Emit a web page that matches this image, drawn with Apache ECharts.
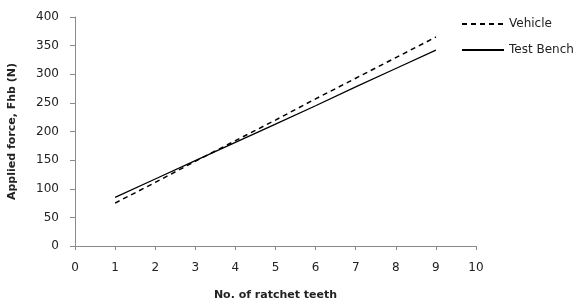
<!DOCTYPE html>
<html>
<head>
<meta charset="utf-8">
<script src="https://cdn.jsdelivr.net/npm/echarts@6/dist/echarts.min.js"></script>
<style>
  html, body { margin: 0; padding: 0; background: #fff; }
  #main { width: 582px; height: 303px; }
</style>
</head>
<body>
<div id="main"></div>
<script>
// teeth count on x axis
let teeth = [1, 2, 3, 4, 5, 6, 7, 8, 9];
// applied force readings (N)
let vehicle = [75, 111, 148, 184, 220, 257, 293, 329, 365];
let testBench = [85, 117, 149, 181, 213, 245, 278, 310, 342];

let myChart = echarts.init(document.getElementById('main'));

function pairs(ys) {
    return teeth.map((x, i) => [x, ys[i]]);
}

let axisColor = '#8a8a8a';
let textColor = '#222';
let font = 'DejaVu Sans';

let option = {
    animation: false,
    grid: { left: 75, right: 106, top: 17, bottom: 57, outerBoundsMode: 'none' },
    legend: {
        orient: 'vertical',
        left: 456,
        top: 13,
        itemWidth: 42,
        itemHeight: 12,
        itemGap: 14,
        itemStyle: { opacity: 0 },
        textStyle: { color: textColor, fontSize: 12, fontFamily: font },
        data: ['Vehicle', 'Test Bench']
    },
    xAxis: {
        type: 'value',
        min: 0, max: 10, interval: 1,
        name: 'No. of ratchet teeth',
        nameLocation: 'middle',
        nameGap: 44,
        nameTextStyle: { fontWeight: 'bold', fontSize: 11, color: textColor, fontFamily: font },
        axisLine: { lineStyle: { color: axisColor } },
        axisTick: { length: 4, lineStyle: { color: axisColor } },
        axisLabel: { color: textColor, fontSize: 12, margin: 16, fontFamily: font },
        splitLine: { show: false }
    },
    yAxis: {
        type: 'value',
        min: 0, max: 400, interval: 50,
        name: 'Applied force, Fhb (N)',
        nameLocation: 'middle',
        nameGap: 57,
        nameTextStyle: { fontWeight: 'bold', fontSize: 11, color: textColor, fontFamily: font },
        axisLine: { show: true, lineStyle: { color: axisColor } },
        axisTick: { show: true, length: 5, lineStyle: { color: axisColor } },
        axisLabel: { color: textColor, fontSize: 12, margin: 16, fontFamily: font },
        splitLine: { show: false }
    },
    series: [
        {
            name: 'Vehicle',
            type: 'line',
            symbol: 'none',
            data: pairs(vehicle),
            lineStyle: { color: '#000', width: 1.5, type: [5, 4] },
            itemStyle: { color: '#000' }
        },
        {
            name: 'Test Bench',
            type: 'line',
            symbol: 'none',
            data: pairs(testBench),
            lineStyle: { color: '#000', width: 1.3 },
            itemStyle: { color: '#000' }
        }
    ]
};

myChart.setOption(option);
</script>
</body>
</html>
